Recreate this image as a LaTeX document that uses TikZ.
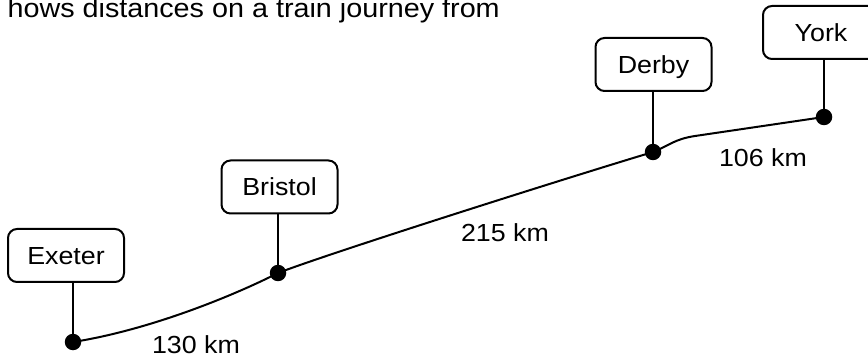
\documentclass[tikz,border=0pt]{standalone}
\usepackage{fontspec}
\setmainfont{Liberation Sans}[FakeStretch=1.085]
\begin{document}
\begin{tikzpicture}[x=1pt,y=-1pt,
  lbl/.style={font=\fontsize{24.7}{30}\selectfont},
  stationbox/.style={draw, line width=2pt, rounded corners=9pt, minimum width=116pt,
    minimum height=53pt, inner sep=0pt, text height=17.7pt, text depth=0pt,
    font=\fontsize{24.7}{30}\selectfont},
  dot/.style={circle, fill=black, minimum size=16.5pt, inner sep=0pt},
  track/.style={line width=2pt}]
\clip (0,0) rectangle (868,358);
\useasboundingbox (0,0) rectangle (868,358);
% header text
\node[anchor=base east, inner sep=0pt, font=\fontsize{26.5}{32}\selectfont] (hdr) at (500,17.5) {hows distances on a train journey from};
% station boxes
\node[stationbox] (exbox) at (66,255.5) {Exeter};
\node[stationbox] (brbox) at (279.5,187) {Bristol};
\node[stationbox] (debox) at (653.5,64.5) {Derby};
\node[stationbox] (yobox) at (821,32.5) {York};
% dots
\node[dot] (ex) at (73,342) {};
\node[dot] (br) at (278,273) {};
\node[dot] (de) at (653,152) {};
\node[dot] (yo) at (824,117) {};
% leader lines
\draw[track] (ex.center) -- (ex |- exbox.south);
\draw[track] (br.center) -- (br |- brbox.south);
\draw[track] (de.center) -- (de |- debox.south);
\draw[track] (yo.center) -- (yo |- yobox.south);
% track
\coordinate (knee) at (695,136);
\draw[track] (ex.center) .. controls (150,330) and (235,295) .. (br.center);
\draw[track] (br.center) .. controls (330,253) and (560,180) .. (de.center);
\draw[track] (de.center) .. controls (670,145) and (675,139) .. (knee) -- (yo.center);
% distances
\node[lbl, anchor=base, inner sep=0pt] (d1) at (196,353) {130 km};
\node[lbl, anchor=base, inner sep=0pt] (d2) at (505,242) {215 km};
\node[lbl, anchor=base, inner sep=0pt] (d3) at (763,167) {106 km};
\end{tikzpicture}
\end{document}
